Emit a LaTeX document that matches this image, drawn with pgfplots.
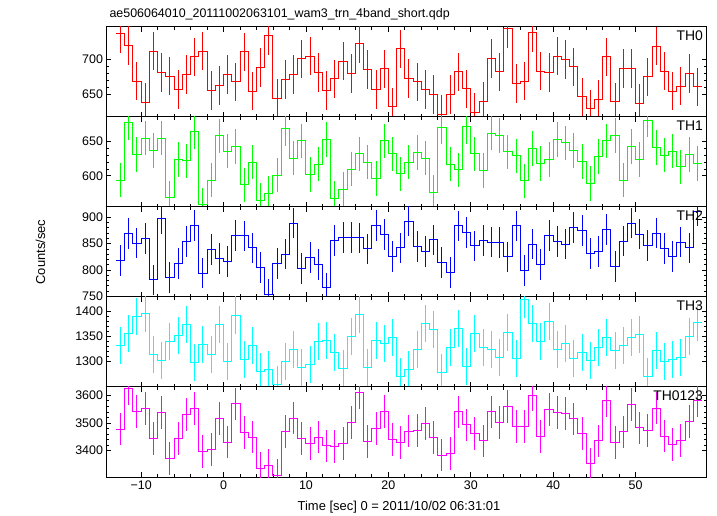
\documentclass[border=0pt]{standalone}
\usepackage{pgfplots}
\usepackage{pgfplotstable}
\usepackage{fontspec}
\setmainfont{Liberation Sans}
\pgfplotsset{compat=1.18}
\definecolor{cR}{RGB}{255,0,0}
\definecolor{cG}{RGB}{0,255,0}
\definecolor{cB}{RGB}{0,0,255}
\definecolor{cC}{RGB}{0,255,255}
\definecolor{cM}{RGB}{255,0,255}
\pgfplotstableread{
t v0 v1 v2 v3 v4 e0 e1 e2 e3 e4
-12.5 735 594 818 1331 3478 27 25 29 37 59
-11.5 719 677 869 1356 3624 27 25 29 37 59
-10.5 669 631 851 1389 3541 27 25 29 37 59
-9.5 639 655 860 1395 3552 27 25 29 37 59
-8.5 711 637 781 1314 3443 27 25 29 37 59
-7.5 681 655 898 1302 3539 27 25 29 37 59
-6.5 676 568 786 1339 3371 27 25 29 37 59
-5.5 657 624 812 1352 3443 27 25 29 37 59
-4.5 678 622 854 1374 3530 27 25 29 37 59
-3.5 703 664 885 1297 3552 27 25 29 37 59
-2.5 711 558 794 1333 3396 27 25 29 37 59
-1.5 656 594 839 1314 3404 27 25 29 37 59
-0.5 663 658 822 1374 3516 27 25 29 37 59
0.5 678 636 816 1300 3431 27 25 29 37 59
1.5 668 643 866 1392 3569 27 25 29 37 59
2.5 710 587 865 1304 3465 27 25 29 37 59
3.5 655 620 842 1331 3449 27 25 29 37 59
4.5 688 564 805 1279 3335 27 25 29 37 59
5.5 733 575 753 1283 3346 27 25 29 37 59
6.5 645 601 812 1253 3312 27 25 29 37 59
7.5 671 669 830 1299 3470 27 25 29 37 59
8.5 678 626 889 1323 3518 27 25 29 37 59
9.5 700 651 803 1287 3445 27 25 29 37 59
10.5 704 602 824 1294 3425 27 25 29 37 59
11.5 681 617 810 1339 3449 27 25 29 37 59
12.5 656 653 766 1341 3417 27 25 29 37 59
13.5 672 567 856 1317 3415 27 25 29 37 59
14.5 697 580 862 1285 3427 27 25 29 37 59
15.5 680 610 862 1349 3501 27 25 29 37 59
16.5 721 632 861 1394 3610 27 25 29 37 59
17.5 685 620 840 1287 3434 27 25 29 37 59
18.5 657 596 885 1341 3480 27 25 29 37 59
19.5 686 651 867 1336 3541 27 25 29 37 59
20.5 633 632 826 1347 3440 27 25 29 37 59
21.5 714 603 842 1269 3430 27 25 29 37 59
22.5 673 620 893 1284 3471 27 25 29 37 59
23.5 668 634 845 1323 3472 27 25 29 37 59
24.5 657 626 835 1375 3498 27 25 29 37 59
25.5 650 576 857 1364 3447 27 25 29 37 59
26.5 622 671 814 1278 3384 27 25 29 37 59
27.5 650 617 795 1328 3390 27 25 29 37 59
28.5 682 609 884 1366 3540 27 25 29 37 59
29.5 658 672 871 1290 3493 27 25 29 37 59
30.5 625 632 846 1356 3463 27 25 29 37 59
31.5 641 608 856 1328 3435 27 25 29 37 59
32.5 701 662 853 1324 3540 27 25 29 37 59
33.5 682 659 852 1308 3501 27 25 29 37 59
34.5 742 635 825 1357 3560 27 25 29 37 59
35.5 666 629 884 1306 3487 27 25 29 37 59
36.5 669 593 799 1424 3487 27 25 29 37 59
37.5 737 640 849 1376 3601 27 25 29 37 59
38.5 683 618 810 1339 3452 27 25 29 37 59
39.5 681 624 866 1379 3549 27 25 29 37 59
40.5 704 653 854 1323 3537 27 25 29 37 59
41.5 699 648 849 1335 3534 27 25 29 37 59
42.5 689 637 881 1306 3515 27 25 29 37 59
43.5 647 621 875 1318 3461 27 25 29 37 59
44.5 630 589 831 1301 3352 27 25 29 37 59
45.5 643 628 835 1328 3435 27 25 29 37 59
46.5 703 651 877 1347 3580 27 25 29 37 59
47.5 640 659 807 1322 3429 27 25 29 37 59
48.5 687 594 855 1332 3468 27 25 29 37 59
49.5 687 643 889 1348 3566 27 25 29 37 59
50.5 638 624 868 1353 3482 27 25 29 37 59
51.5 675 681 847 1269 3472 27 25 29 37 59
52.5 718 641 870 1322 3554 27 25 29 37 59
53.5 683 630 841 1299 3453 27 25 29 37 59
54.5 655 636 826 1304 3423 27 25 29 37 59
55.5 662 613 853 1308 3437 27 25 29 37 59
56.5 680 631 842 1350 3505 27 25 29 37 59
57.5 661 618 912 1377 3580 27 25 29 37 59
58.5 661 618 912 1377 3580 0 0 0 0 0
}\data

\pgfplotsset{
  panel/.style={
    scale only axis, width=600bp, height=90bp,
    xmin=-14.2, xmax=58.6,
    xtick={-10,0,...,50}, minor x tick num=4,
    xticklabels={},
    xtick pos=both, ytick pos=both, tick align=inside,
    major tick length=5bp, minor tick length=3bp,
    tick style={black, line width=0.8bp},
    axis line style={line width=1bp},
    minor y tick num=4,
    tick label style={font=\fontsize{12.5}{14}\selectfont},
    /pgf/number format/assume math mode=true,
    /pgf/number format/1000 sep={},
  },
}
\tikzset{thlab/.style={anchor=north east, font=\fontsize{14}{16}\selectfont}}
% step line and error bars of one series: #1 colour, #2 value column, #3 error column
\newcommand{\series}[3]{%
  \addplot[color=#1, line width=1bp, mark=none, const plot mark left]
    table[x expr=\thisrow{t}-0.5, y=#2]{\data};
  \addplot[color=#1, draw=none, mark=none,
    restrict x to domain=-13:58,
    error bars/.cd, y dir=both, y explicit, error mark=none,
    error bar style={draw=#1, line width=1bp, solid}]
    table[x=t, y=#2, y error=#3]{\data};
}

\begin{document}
\begin{tikzpicture}
\useasboundingbox (-106.5bp,-39bp) rectangle (610.5bp,477bp);

\begin{axis}[panel, at={(0,360bp)}, ymin=618.8, ymax=744.8, ytick={650,700}]
\series{cR}{v0}{e0}
\node[thlab] at (rel axis cs:1,1) {TH0};
\end{axis}

\begin{axis}[panel, at={(0,270bp)}, ymin=554.8, ymax=685.6, ytick={600,650}]
\series{cG}{v1}{e1}
\node[thlab] at (rel axis cs:1,1) {TH1};
\end{axis}

\begin{axis}[panel, at={(0,180bp)}, ymin=748.7, ymax=919.7, ytick={750,800,850,900}]
\series{cB}{v2}{e2}
\node[thlab] at (rel axis cs:1,1) {TH2};
\end{axis}

\begin{axis}[panel, at={(0,90bp)}, ymin=1249, ymax=1428, ytick={1300,1350,1400}]
\series{cC}{v3}{e3}
\node[thlab] at (rel axis cs:1,1) {TH3};
\end{axis}

\begin{axis}[panel, at={(0,0bp)}, ymin=3305, ymax=3630, ytick={3400,3500,3600},
  xticklabels={−10,0,10,20,30,40,50}]
\series{cM}{v4}{e4}
\node[thlab] at (rel axis cs:1,1) {TH0123};
\end{axis}

\node[anchor=base west, font=\fontsize{12.5}{14}\selectfont] at (-0.5bp,459bp)
  {ae506064010\_20111002063101\_wam3\_trn\_4band\_short.qdp};
\node[rotate=90, font=\fontsize{13}{15}\selectfont] at (-66bp,225bp) {Counts/sec};
\node[font=\fontsize{13}{15}\selectfont] at (292.5bp,-30bp) {Time [sec] 0 = 2011/10/02 06:31:01};
\end{tikzpicture}
\end{document}
